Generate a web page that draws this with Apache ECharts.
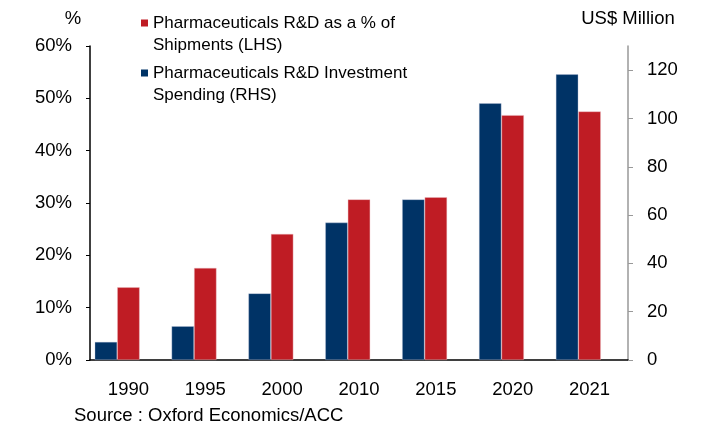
<!DOCTYPE html>
<html>
<head>
<meta charset="utf-8">
<script src="https://cdn.jsdelivr.net/npm/echarts@6/dist/echarts.min.js"></script>
<style>
  html, body { margin: 0; padding: 0; background: #fff; }
  #chart { width: 707px; height: 426px; }
</style>
</head>
<body>
<div id="chart"></div>
<script>
// Years on the category axis
var categories = ['1990', '1995', '2000', '2010', '2015', '2020', '2021'];
// R&D as a share of shipments, % (left axis)
var shareOfShipments = [13.9, 17.6, 24.1, 30.7, 31.1, 46.8, 47.5];
// R&D investment spending, US$ million (right axis)
var rdSpending = [7.5, 14.0, 27.6, 56.9, 66.5, 106.3, 118.3];
// Tick values shown on the right axis
var rightTicks = [0, 20, 40, 60, 80, 100, 120];

var nameShare = 'Pharmaceuticals R&D as a % of\nShipments (LHS)';
var nameSpend = 'Pharmaceuticals R&D Investment\nSpending (RHS)';

var RED = '#BF1C24';
var BLUE = '#003366';
var FONT = 'Liberation Sans, Arial, sans-serif';

// Legend swatch: small square sitting on the first text line
var swatch = 'path://M0,0h7v7h-7zM0,28.9h0.1v0.1h-0.1z';

var chart = echarts.init(document.getElementById('chart'), null, { renderer: 'canvas' });

chart.setOption({
  animation: false,
  backgroundColor: '#fff',
  textStyle: { fontFamily: FONT },
  title: {
    text: 'Source : Oxford Economics/ACC',
    left: 74,
    top: 406,
    padding: 0,
    textStyle: { fontFamily: FONT, fontSize: 18.5, fontWeight: 'normal', color: '#000' }
  },
  legend: {
    data: [nameShare, nameSpend],
    orient: 'vertical',
    left: 141,
    top: 12,
    padding: 0,
    itemGap: 6,
    itemWidth: 7,
    itemHeight: 29,
    icon: swatch,
    selectedMode: false,
    itemStyle: { borderWidth: 0 },
    textStyle: { fontFamily: FONT, fontSize: 17, color: '#000', lineHeight: 22 }
  },
  grid: { left: 90, right: 79, top: 46, bottom: 66, containLabel: false },
  xAxis: {
    type: 'category',
    data: categories,
    axisLine: { lineStyle: { color: '#000', width: 1.5 } },
    axisTick: { show: false },
    axisLabel: { color: '#000', fontSize: 18.5, fontFamily: FONT, margin: 20 }
  },
  yAxis: [
    {
      type: 'value',
      position: 'left',
      min: 0, max: 60, interval: 10,
      name: '%',
      nameLocation: 'end',
      nameGap: 18,
      nameTextStyle: { color: '#000', fontSize: 18.5, fontFamily: FONT, padding: [0, 34, 0, 0] },
      axisLine: { show: true, lineStyle: { color: '#000', width: 1.5 } },
      axisTick: { show: true, length: 4, lineStyle: { color: '#000' } },
      axisLabel: { color: '#000', fontSize: 18.5, fontFamily: FONT, margin: 18, formatter: '{value}%' },
      splitLine: { show: false }
    },
    {
      type: 'value',
      position: 'right',
      min: 0, max: 130, interval: 20,
      name: 'US$ Million',
      nameLocation: 'end',
      nameGap: 18,
      nameTextStyle: { color: '#000', fontSize: 18.5, fontFamily: FONT },
      axisLine: { show: true, lineStyle: { color: '#999', width: 1.5 } },
      axisTick: { show: true, length: 5, customValues: rightTicks, lineStyle: { color: '#999' } },
      axisLabel: { color: '#000', fontSize: 18.5, fontFamily: FONT, margin: 19, customValues: rightTicks },
      splitLine: { show: false }
    }
  ],
  series: [
    {
      name: nameSpend,
      type: 'bar',
      yAxisIndex: 1,
      data: rdSpending,
      barWidth: 22.5,
      barGap: '0%',
      itemStyle: { color: BLUE, borderColor: 'rgba(190,200,220,0.6)', borderWidth: 0.6 }
    },
    {
      name: nameShare,
      type: 'bar',
      yAxisIndex: 0,
      data: shareOfShipments,
      barWidth: 22.5,
      barGap: '0%',
      itemStyle: { color: RED, borderColor: 'rgba(235,190,195,0.7)', borderWidth: 0.6 }
    },
    {
      // empty slot that keeps each pair left of the category centre
      name: 'spacer',
      type: 'bar',
      yAxisIndex: 0,
      data: [],
      barWidth: 22.5,
      barGap: '0%',
      silent: true
    }
  ]
});
</script>
</body>
</html>
